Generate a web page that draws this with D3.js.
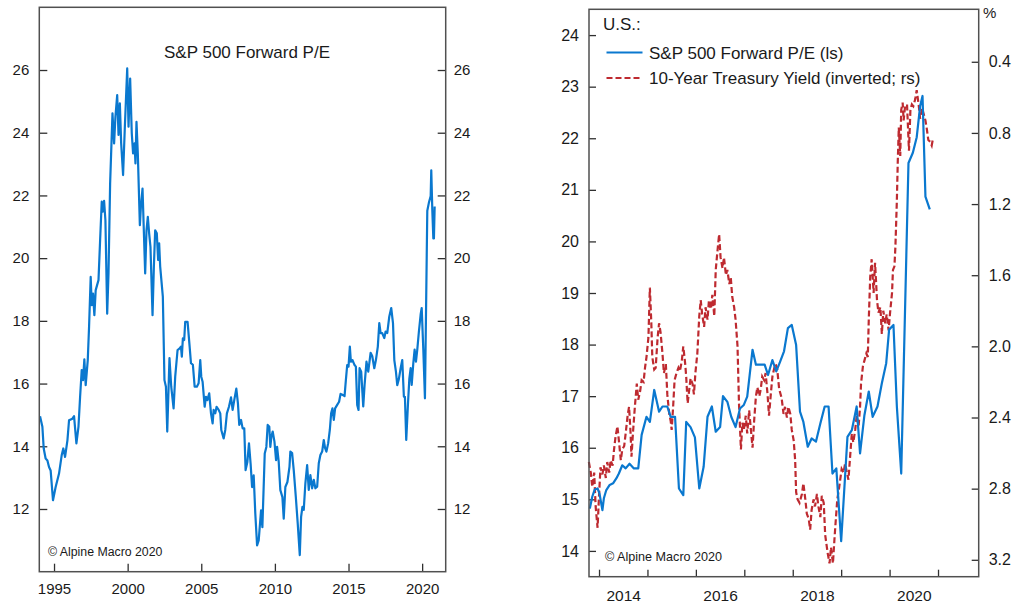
<!DOCTYPE html>
<html>
<head>
<meta charset="utf-8">
<title>S&amp;P 500 Forward P/E</title>
<style>
    body { margin: 0; background: #fff; }
    svg text { font-family: "Liberation Sans", Arial, sans-serif; fill: #1a1a1a; }
    .frame { fill: none; stroke: #505050; stroke-width: 1.5px; }
    .axis line { stroke: #303030; stroke-width: 1.3px; }
    .axis path { display: none; }
    .pe { fill: none; stroke: #0a78cf; stroke-width: 2.2px; stroke-linejoin: round; }
    .yield { fill: none; stroke: #be2a30; stroke-width: 2.2px; stroke-dasharray: 6 3; }
</style>
</head>
<body>
<svg id="chart" width="1013" height="604"></svg>
<script src="https://cdn.jsdelivr.net/npm/d3@7"></script>
<script>
// left panel: S&P 500 forward P/E, 1994 - 2020  [decimal year, P/E]
const peLong = [
    [1994.05,14.96],[1994.21,14.62],[1994.30,13.93],[1994.43,13.61],[1994.55,13.55],[1994.66,13.34],
    [1994.77,13.23],[1994.93,12.28],[1995.11,12.70],[1995.34,13.13],[1995.52,13.71],[1995.63,13.93],
    [1995.75,13.66],[1995.91,14.19],[1996.02,14.83],[1996.25,14.88],[1996.36,14.96],[1996.52,14.09],
    [1996.66,14.62],[1996.77,15.57],[1996.88,16.43],[1996.97,16.11],[1997.06,16.77],[1997.15,15.95],
    [1997.29,16.74],[1997.38,17.81],[1997.49,19.40],[1997.56,18.50],[1997.65,18.87],[1997.74,18.18],
    [1997.83,18.98],[1998.02,19.30],[1998.13,20.57],[1998.24,21.80],[1998.31,21.48],[1998.40,21.83],
    [1998.49,21.21],[1998.61,18.23],[1998.70,19.51],[1998.81,22.38],[1998.97,24.62],[1999.08,23.66],
    [1999.17,24.51],[1999.29,25.20],[1999.38,23.93],[1999.47,24.94],[1999.56,23.66],[1999.69,22.65],
    [1999.81,24.19],[1999.97,26.05],[2000.06,24.19],[2000.17,25.73],[2000.28,23.98],[2000.37,23.34],
    [2000.47,23.66],[2000.53,23.02],[2000.60,24.35],[2000.69,23.34],[2000.83,21.05],[2000.90,21.64],
    [2001.01,22.22],[2001.19,19.51],[2001.28,20.89],[2001.37,21.32],[2001.46,20.79],[2001.55,20.36],
    [2001.69,18.18],[2001.78,19.72],[2001.87,20.89],[2001.98,20.79],[2002.07,19.94],[2002.14,20.47],
    [2002.21,19.73],[2002.39,18.77],[2002.50,16.11],[2002.60,15.90],[2002.69,14.47],[2002.84,16.81],
    [2002.96,15.90],[2003.12,15.21],[2003.23,16.22],[2003.39,17.07],[2003.53,17.12],[2003.62,17.18],
    [2003.68,16.86],[2003.75,17.44],[2003.84,17.39],[2003.91,17.97],[2004.07,17.97],[2004.21,17.18],
    [2004.30,16.65],[2004.43,16.60],[2004.55,15.90],[2004.70,15.90],[2004.82,16.01],[2004.93,16.75],
    [2005.00,16.22],[2005.09,16.06],[2005.23,15.26],[2005.32,15.58],[2005.41,15.47],[2005.54,15.69],
    [2005.66,15.05],[2005.77,14.73],[2005.84,15.16],[2005.95,15.05],[2006.04,15.26],[2006.18,15.16],
    [2006.29,15.05],[2006.36,14.52],[2006.52,14.25],[2006.63,14.52],[2006.74,15.05],[2006.88,15.26],
    [2007.02,15.56],[2007.13,15.16],[2007.24,15.47],[2007.38,15.84],[2007.49,15.37],[2007.58,14.68],
    [2007.70,14.84],[2007.81,14.57],[2007.92,14.57],[2008.01,13.24],[2008.13,13.50],[2008.24,14.09],
    [2008.35,13.45],[2008.45,12.70],[2008.56,13.07],[2008.67,11.85],[2008.79,10.84],[2008.90,11.00],
    [2009.06,11.96],[2009.15,11.42],[2009.31,13.77],[2009.42,13.98],[2009.51,14.68],[2009.62,14.62],
    [2009.69,13.98],[2009.76,14.30],[2009.85,14.47],[2009.97,14.15],[2010.08,13.56],[2010.15,13.98],
    [2010.26,13.50],[2010.37,12.60],[2010.51,12.38],[2010.60,11.69],[2010.71,12.70],[2010.85,12.86],
    [2010.99,13.34],[2011.05,13.83],[2011.17,13.78],[2011.28,13.24],[2011.42,12.39],[2011.55,11.54],
    [2011.69,10.53],[2011.78,11.75],[2011.87,12.07],[2011.96,11.97],[2012.07,12.82],[2012.19,13.40],
    [2012.30,12.61],[2012.41,13.08],[2012.53,12.66],[2012.64,12.93],[2012.75,12.66],[2012.87,12.71],
    [2012.98,13.46],[2013.09,13.72],[2013.21,13.83],[2013.32,14.20],[2013.41,13.94],[2013.50,13.83],
    [2013.62,14.10],[2013.73,14.52],[2013.82,15.05],[2013.91,15.21],[2014.00,14.84],[2014.09,15.21],
    [2014.23,15.32],[2014.36,15.42],[2014.46,15.67],[2014.59,15.64],[2014.73,15.60],[2014.82,16.11],
    [2014.91,16.59],[2015.00,16.54],[2015.09,17.18],[2015.16,16.70],[2015.27,16.75],[2015.41,16.59],
    [2015.50,16.54],[2015.59,15.32],[2015.68,15.16],[2015.75,16.49],[2015.86,16.38],[2016.00,15.27],
    [2016.09,15.95],[2016.22,16.70],[2016.34,16.38],[2016.50,16.98],[2016.61,16.88],[2016.75,16.49],
    [2016.86,16.75],[2016.99,17.18],[2017.09,17.93],[2017.18,17.61],[2017.29,17.61],[2017.43,17.45],
    [2017.52,17.66],[2017.63,17.61],[2017.77,18.14],[2017.90,18.41],[2018.02,17.93],[2018.11,16.75],
    [2018.22,16.38],[2018.31,15.95],[2018.42,16.15],[2018.54,16.49],[2018.65,16.75],[2018.76,15.58],
    [2018.83,15.58],[2018.92,14.20],[2019.04,15.37],[2019.13,16.15],[2019.22,16.49],[2019.29,15.96],
    [2019.40,16.65],[2019.49,17.08],[2019.58,16.70],[2019.67,17.08],[2019.78,17.66],[2019.90,18.21],
    [2019.97,18.41],[2020.08,17.08],[2020.19,15.53],[2020.35,21.51],[2020.46,21.77],[2020.58,21.98],
    [2020.62,22.80],[2020.69,21.54],[2020.76,20.63],[2020.80,20.63],[2020.85,21.65]
]

// right panel: monthly forward P/E since late 2013
const peRecent = [
    [2013.81,14.82],[2013.86,15.05],[2013.91,15.19],[2013.97,15.21],[2014.01,15.11],[2014.07,14.79],
    [2014.10,15.02],[2014.15,15.18],[2014.22,15.28],[2014.29,15.31],[2014.36,15.41],[2014.41,15.50],
    [2014.48,15.66],[2014.55,15.60],[2014.63,15.69],[2014.72,15.60],[2014.81,15.60],[2014.88,16.25],
    [2014.98,16.60],[2015.05,16.50],[2015.14,17.12],[2015.24,16.70],[2015.31,16.80],[2015.41,16.80],
    [2015.48,16.60],[2015.57,16.60],[2015.65,15.21],[2015.74,15.08],[2015.80,16.50],[2015.89,16.40],
    [2015.98,16.20],[2016.07,15.21],[2016.16,15.63],[2016.24,16.60],[2016.33,16.80],[2016.41,16.31],
    [2016.50,16.40],[2016.56,17.00],[2016.65,16.89],[2016.73,16.60],[2016.82,16.40],[2016.91,16.76],
    [2016.99,16.83],[2017.06,16.99],[2017.17,17.90],[2017.24,17.61],[2017.34,17.61],[2017.42,17.61],
    [2017.49,17.41],[2017.58,17.70],[2017.66,17.48],[2017.74,17.67],[2017.82,17.87],[2017.90,18.32],
    [2017.98,18.38],[2018.07,17.99],[2018.15,16.70],[2018.22,16.50],[2018.31,16.02],[2018.39,16.18],
    [2018.48,16.12],[2018.57,16.47],[2018.66,16.80],[2018.74,16.80],[2018.82,15.50],[2018.90,15.60],
    [2019.00,14.19],[2019.13,16.21],[2019.22,16.34],[2019.32,16.80],[2019.39,15.89],[2019.48,16.63],
    [2019.57,17.09],[2019.65,16.60],[2019.75,16.80],[2019.84,17.25],[2019.93,17.64],[2019.99,18.29],
    [2020.08,18.38],[2020.15,16.80],[2020.24,15.50],[2020.39,21.52],[2020.48,21.72],[2020.56,22.02],
    [2020.63,22.62],[2020.68,22.82],[2020.74,20.87],[2020.83,20.62]
]

// right panel: 10-year treasury yield, % (plotted inverted)
const tenYear = [
    [2013.79,2.65],[2013.83,2.71],[2013.86,2.79],[2013.90,2.71],[2013.93,2.90],[2013.97,3.02],
    [2014.00,2.84],[2014.03,2.68],[2014.07,2.72],[2014.10,2.67],[2014.14,2.74],[2014.17,2.65],
    [2014.21,2.71],[2014.24,2.64],[2014.28,2.67],[2014.31,2.58],[2014.34,2.51],[2014.38,2.45],
    [2014.41,2.53],[2014.45,2.64],[2014.48,2.58],[2014.52,2.56],[2014.55,2.49],[2014.59,2.39],
    [2014.62,2.34],[2014.65,2.48],[2014.67,2.62],[2014.70,2.49],[2014.74,2.34],[2014.78,2.21],
    [2014.81,2.30],[2014.85,2.25],[2014.88,2.19],[2014.92,2.20],[2014.95,2.12],[2014.98,2.06],
    [2015.02,1.95],[2015.05,1.67],[2015.08,1.87],[2015.10,2.06],[2015.14,2.13],[2015.17,2.12],
    [2015.21,1.95],[2015.24,1.87],[2015.27,1.92],[2015.31,2.04],[2015.34,2.15],[2015.38,2.10],
    [2015.41,2.27],[2015.45,2.38],[2015.48,2.42],[2015.50,2.47],[2015.53,2.34],[2015.56,2.19],
    [2015.60,2.15],[2015.64,2.12],[2015.67,2.14],[2015.71,2.08],[2015.74,2.00],[2015.78,2.10],
    [2015.80,2.17],[2015.83,2.32],[2015.86,2.25],[2015.89,2.18],[2015.93,2.21],[2015.96,2.27],
    [2015.99,2.15],[2016.03,2.04],[2016.07,1.83],[2016.10,1.74],[2016.13,1.82],[2016.17,1.89],
    [2016.20,1.78],[2016.24,1.85],[2016.27,1.74],[2016.31,1.79],[2016.34,1.71],[2016.38,1.83],
    [2016.41,1.57],[2016.44,1.48],[2016.48,1.37],[2016.51,1.50],[2016.55,1.56],[2016.58,1.50],
    [2016.62,1.60],[2016.65,1.57],[2016.69,1.65],[2016.72,1.61],[2016.75,1.72],[2016.79,1.78],
    [2016.82,1.85],[2016.86,2.00],[2016.89,2.32],[2016.93,2.58],[2016.96,2.43],[2016.99,2.47],
    [2017.03,2.39],[2017.06,2.49],[2017.10,2.36],[2017.13,2.45],[2017.17,2.57],[2017.20,2.43],
    [2017.24,2.28],[2017.27,2.23],[2017.31,2.28],[2017.34,2.24],[2017.37,2.17],[2017.41,2.19],
    [2017.44,2.15],[2017.48,2.27],[2017.51,2.39],[2017.55,2.26],[2017.58,2.17],[2017.62,2.12],
    [2017.65,2.10],[2017.68,2.13],[2017.72,2.24],[2017.77,2.29],[2017.81,2.38],[2017.84,2.34],
    [2017.88,2.40],[2017.91,2.34],[2017.95,2.38],[2017.98,2.47],[2018.02,2.53],[2018.05,2.64],
    [2018.07,2.82],[2018.10,2.86],[2018.14,2.88],[2018.19,2.83],[2018.22,2.77],[2018.26,2.86],
    [2018.29,2.94],[2018.33,2.97],[2018.36,3.03],[2018.39,2.92],[2018.43,2.86],[2018.46,2.90],
    [2018.50,2.83],[2018.53,2.90],[2018.57,2.96],[2018.60,2.84],[2018.64,2.88],[2018.67,3.06],
    [2018.72,3.16],[2018.76,3.22],[2018.79,3.13],[2018.83,3.22],[2018.86,3.09],[2018.88,3.01],
    [2018.92,2.86],[2018.96,2.79],[2019.01,2.69],[2019.05,2.71],[2019.08,2.66],[2019.12,2.71],
    [2019.15,2.75],[2019.19,2.60],[2019.22,2.49],[2019.25,2.54],[2019.29,2.47],[2019.32,2.39],
    [2019.36,2.45],[2019.39,2.34],[2019.41,2.21],[2019.45,2.11],[2019.48,2.08],[2019.52,2.04],
    [2019.55,2.06],[2019.57,1.85],[2019.60,1.61],[2019.63,1.51],[2019.67,1.70],[2019.70,1.53],
    [2019.74,1.74],[2019.77,1.81],[2019.81,1.78],[2019.84,1.93],[2019.87,1.80],[2019.91,1.87],
    [2019.94,1.82],[2019.98,1.91],[2020.01,1.81],[2020.05,1.70],[2020.07,1.57],[2020.10,1.55],
    [2020.12,1.44],[2020.15,1.18],[2020.17,0.95],[2020.19,0.77],[2020.22,0.93],[2020.24,0.67],
    [2020.27,0.63],[2020.29,0.73],[2020.32,0.65],[2020.36,0.64],[2020.40,0.90],[2020.43,0.67],
    [2020.46,0.64],[2020.49,0.65],[2020.53,0.61],[2020.56,0.56],[2020.60,0.64],[2020.63,0.72],
    [2020.67,0.66],[2020.70,0.69],[2020.74,0.73],[2020.77,0.78],[2020.80,0.84],[2020.84,0.85],
    [2020.87,0.87],[2020.89,0.84]
]

// ticks / labels
const leftPanelYTicks = [12, 14, 16, 18, 20, 22, 24, 26]
const leftPanelXTicks = [1995, 2000, 2005, 2010, 2015, 2020]
const rightPanelYTicks = [14, 15, 16, 17, 18, 19, 20, 21, 22, 23, 24]
const yieldTicks = [0.4, 0.8, 1.2, 1.6, 2.0, 2.4, 2.8, 3.2]
const rightPanelYearTicks = [2014, 2015, 2016, 2017, 2018, 2019, 2020, 2021]
const rightPanelYearLabels = [2014, 2016, 2018, 2020]

let svg = d3.select("#chart")

// ---------- left panel ----------
let L = { left: 39.3, right: 445.7, top: 7.3, bottom: 571.7 }

let xL = d3.scaleLinear().domain([1994, 2021.6]).range([L.left, L.right])
let yL = d3.scaleLinear().domain([10, 28]).range([L.bottom, L.top])

let left = svg.append("g")

left.append("g").attr("class", "axis")
    .attr("transform", `translate(${L.left},0)`)
    .style("font-size", "15px")
    .call(d3.axisLeft(yL).tickValues(leftPanelYTicks).tickSize(-8).tickPadding(10).tickFormat(d3.format("d")))

left.append("g").attr("class", "axis")
    .attr("transform", `translate(${L.right},0)`)
    .style("font-size", "15px")
    .call(d3.axisRight(yL).tickValues(leftPanelYTicks).tickSize(-8).tickPadding(8).tickFormat(d3.format("d")))

left.append("g").attr("class", "axis")
    .attr("transform", `translate(0,${L.bottom})`)
    .style("font-size", "15px")
    .call(d3.axisBottom(xL).tickValues(leftPanelXTicks).tickSize(-8).tickPadding(12).tickFormat(d3.format("d")))

left.append("path")
    .datum(peLong)
    .attr("class", "pe")
    .attr("d", d3.line().x(d => xL(d[0])).y(d => yL(d[1])))

left.append("rect").attr("class", "frame")
    .attr("x", L.left).attr("y", L.top)
    .attr("width", L.right - L.left).attr("height", L.bottom - L.top)

left.append("text")
    .attr("x", 247).attr("y", 58)
    .attr("text-anchor", "middle")
    .style("font-size", "17px")
    .text("S&P 500 Forward P/E")

left.append("text")
    .attr("x", 48).attr("y", 556)
    .style("font-size", "12.3px")
    .text("© Alpine Macro 2020")

// ---------- right panel ----------
let R = { left: 589, right: 978.7, top: 9.3, bottom: 576.7 }

let xR = d3.scaleLinear().domain([2013.793, 2021.84]).range([R.left, R.right])
let yR = d3.scaleLinear().domain([13.5, 24.5]).range([R.bottom, R.top])
let yY = d3.scaleLinear().domain([0.105, 3.295]).range([R.top, R.bottom])   // inverted yield

let right = svg.append("g")

right.append("g").attr("class", "axis")
    .attr("transform", `translate(${R.left},0)`)
    .style("font-size", "16px")
    .call(d3.axisLeft(yR).tickValues(rightPanelYTicks).tickSize(-7).tickPadding(10).tickFormat(d3.format("d")))

right.append("g").attr("class", "axis")
    .attr("transform", `translate(${R.right},0)`)
    .style("font-size", "16px")
    .call(d3.axisRight(yY).tickValues(yieldTicks).tickSize(-7).tickPadding(10).tickFormat(d3.format(".1f")))

right.append("g").attr("class", "axis")
    .attr("transform", `translate(0,${R.bottom})`)
    .call(d3.axisBottom(xR).tickValues(rightPanelYearTicks).tickSize(-7).tickFormat(""))

// year labels sit in the middle of each year
right.append("g").attr("class", "axis")
    .attr("transform", `translate(0,${R.bottom})`)
    .style("font-size", "15.5px")
    .call(d3.axisBottom(d3.scaleLinear().domain(xR.domain().map(v => v - 0.5)).range(xR.range()))
        .tickValues(rightPanelYearLabels).tickSize(0).tickPadding(13.5).tickFormat(d3.format("d")))

right.append("path")
    .datum(tenYear)
    .attr("class", "yield")
    .attr("d", d3.line().x(d => xR(d[0])).y(d => yY(d[1])))

right.append("path")
    .datum(peRecent)
    .attr("class", "pe")
    .attr("d", d3.line().x(d => xR(d[0])).y(d => yR(d[1])))

right.append("rect").attr("class", "frame")
    .attr("x", R.left).attr("y", R.top)
    .attr("width", R.right - R.left).attr("height", R.bottom - R.top)

right.append("text")
    .attr("x", 983).attr("y", 18)
    .style("font-size", "15px")
    .text("%")

// legend
right.append("text").attr("x", 603).attr("y", 30).style("font-size", "17px").text("U.S.:")
right.append("line").attr("class", "pe")
    .attr("x1", 606.5).attr("x2", 642.5).attr("y1", 52.5).attr("y2", 52.5)
right.append("text").attr("x", 649).attr("y", 58.5).style("font-size", "17px").text("S&P 500 Forward P/E (ls)")
right.append("line").attr("class", "yield")
    .attr("x1", 606.5).attr("x2", 642.5).attr("y1", 78).attr("y2", 78)
right.append("text").attr("x", 649).attr("y", 83.5).style("font-size", "17px").text("10-Year Treasury Yield (inverted; rs)")

right.append("text")
    .attr("x", 605).attr("y", 561)
    .style("font-size", "12.6px")
    .text("© Alpine Macro 2020")
</script>
</body>
</html>
